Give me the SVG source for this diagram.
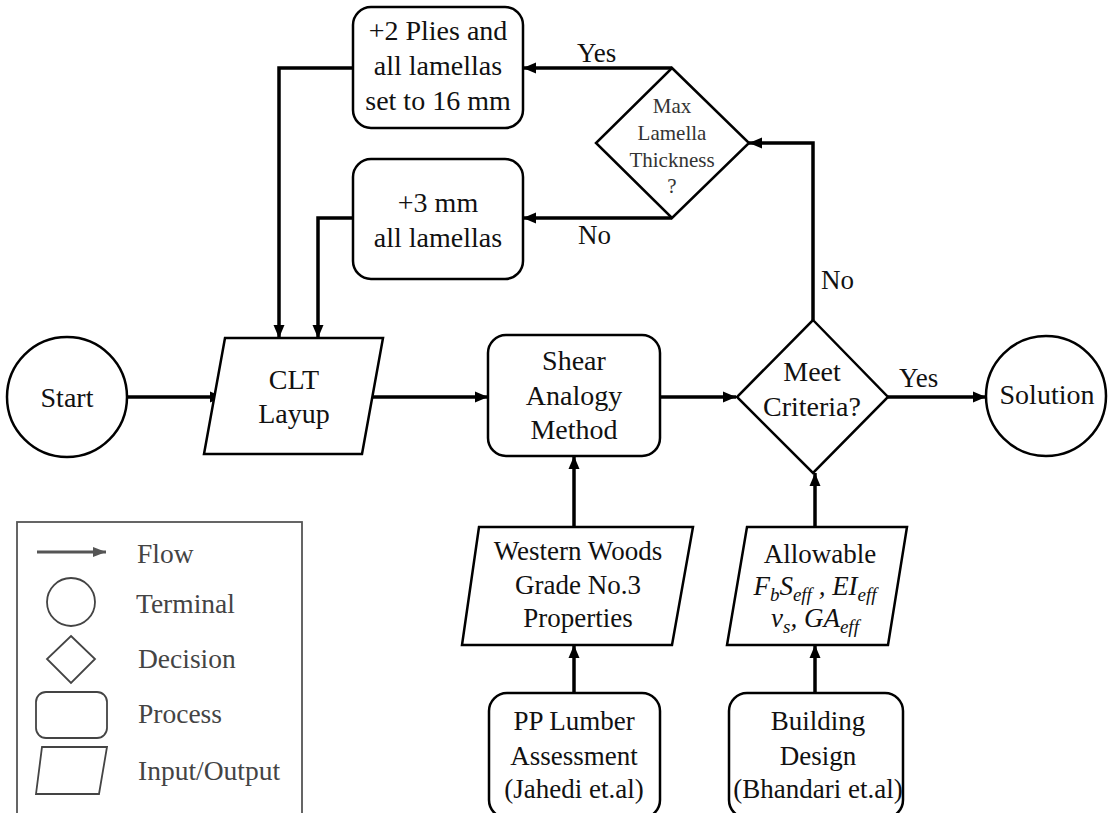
<svg xmlns="http://www.w3.org/2000/svg" width="1113" height="813" viewBox="0 0 1113 813">
<defs>
<marker id="ah" markerUnits="userSpaceOnUse" markerWidth="14" markerHeight="12" refX="13" refY="6" orient="auto">
<path d="M0,0.5 L13,6 L0,11.5 z" fill="#000"/>
</marker>
<marker id="ahg" markerUnits="userSpaceOnUse" markerWidth="14" markerHeight="12" refX="13" refY="6" orient="auto">
<path d="M0,1 L13,6 L0,11 z" fill="#555"/>
</marker>
</defs>
<style>
.sh{fill:#fff;stroke:#000;stroke-width:2.5}
.cn{fill:none;stroke:#000;stroke-width:3.5}
text{font-family:'Liberation Serif','Times New Roman',serif}
.t{font-size:28px;fill:#111;text-anchor:middle}
.ts{font-size:21px;fill:#333;text-anchor:middle}
.tb{font-size:27px;fill:#111;text-anchor:middle}
.lb{font-size:27px;fill:#111}
.m{font-style:italic;font-size:27px;fill:#111;text-anchor:middle}
.lg{fill:#fff;stroke:#444;stroke-width:1.8}
.lt{font-size:27.5px;fill:#444}
</style>
<rect width="1113" height="813" fill="#fff"/>

<g id="connectors">
<path class="cn" d="M128,397 L223,397" marker-end="url(#ah)"/>
<path class="cn" d="M372,397 L488,397" marker-end="url(#ah)"/>
<path class="cn" d="M660,397 L736,397" marker-end="url(#ah)"/>
<path class="cn" d="M888,397 L986,397" marker-end="url(#ah)"/>
<path class="cn" d="M813,320 L813,143 L749,143" marker-end="url(#ah)"/>
<path class="cn" d="M672,68 L523,68" marker-end="url(#ah)"/>
<path class="cn" d="M672,218 L523,218" marker-end="url(#ah)"/>
<path class="cn" d="M353,68 L279,68 L279,338" marker-end="url(#ah)"/>
<path class="cn" d="M353,218 L318,218 L318,338" marker-end="url(#ah)"/>
<path class="cn" d="M574,527 L574,456" marker-end="url(#ah)"/>
<path class="cn" d="M574,693 L574,645" marker-end="url(#ah)"/>
<path class="cn" d="M815,527 L815,473" marker-end="url(#ah)"/>
<path class="cn" d="M815,693 L815,645" marker-end="url(#ah)"/>
<text class="lb" x="577" y="62">Yes</text>
<text class="lb" x="578" y="244">No</text>
<text class="lb" x="821" y="289">No</text>
<text class="lb" x="899" y="387">Yes</text>
</g>

<g id="start">
<circle class="sh" cx="67" cy="397" r="60"/>
<text class="t" x="67" y="407">Start</text>
</g>

<g id="clt-layup">
<polygon class="sh" points="225,338 383,338 362,454 204,454"/>
<text class="t" x="294" y="389">CLT</text>
<text class="t" x="294" y="423">Layup</text>
</g>

<g id="shear-analogy">
<rect class="sh" x="488" y="335" width="172" height="121" rx="18"/>
<text class="t" x="574" y="370">Shear</text>
<text class="t" x="574" y="405">Analogy</text>
<text class="t" x="574" y="439">Method</text>
</g>

<g id="meet-criteria">
<polygon class="sh" points="813,320 888,397 813,473 737,397"/>
<text class="t" x="812" y="381">Meet</text>
<text class="t" x="812" y="416">Criteria?</text>
</g>

<g id="solution">
<circle class="sh" cx="1046" cy="396" r="60"/>
<text class="t" x="1047" y="404">Solution</text>
</g>

<g id="max-lamella">
<polygon class="sh" points="672,68 749,143 672,218 596,143"/>
<text class="ts" x="672" y="113">Max</text>
<text class="ts" x="672" y="140">Lamella</text>
<text class="ts" x="672" y="167">Thickness</text>
<text class="ts" x="672" y="193">?</text>
</g>

<g id="plus2-plies">
<rect class="sh" x="353" y="7" width="170" height="121" rx="18"/>
<text class="t" x="438" y="40">+2 Plies and</text>
<text class="t" x="438" y="75">all lamellas</text>
<text class="t" x="438" y="110">set to 16 mm</text>
</g>

<g id="plus3-mm">
<rect class="sh" x="353" y="159" width="170" height="120" rx="18"/>
<text class="t" x="438" y="212">+3 mm</text>
<text class="t" x="438" y="247">all lamellas</text>
</g>

<g id="western-woods">
<polygon class="sh" points="479,527 693,527 672,645 462,645"/>
<text class="tb" x="578" y="560">Western Woods</text>
<text class="tb" x="578" y="594">Grade No.3</text>
<text class="tb" x="578" y="627">Properties</text>
</g>

<g id="allowable">
<polygon class="sh" points="747,527 907,527 888,645 727,645"/>
<text class="tb" x="820" y="563">Allowable</text>
<text class="m" x="815" y="595">F<tspan dy="6" font-size="19">b</tspan><tspan dy="-6">S</tspan><tspan dy="6" font-size="19">eff</tspan><tspan dy="-6"> , EI</tspan><tspan dy="6" font-size="19">eff</tspan></text>
<text class="m" x="815" y="627">v<tspan dy="6" font-size="19">s</tspan><tspan dy="-6">, GA</tspan><tspan dy="6" font-size="19">eff</tspan></text>
</g>

<g id="pp-lumber">
<rect class="sh" x="489" y="693" width="171" height="125" rx="18"/>
<text class="tb" x="574" y="730">PP Lumber</text>
<text class="tb" x="574" y="765">Assessment</text>
<text class="tb" x="574" y="798">(Jahedi et.al)</text>
</g>

<g id="building-design">
<rect class="sh" x="729" y="693" width="174" height="125" rx="18"/>
<text class="tb" x="818" y="730">Building</text>
<text class="tb" x="818" y="765">Design</text>
<text class="tb" x="818" y="798">(Bhandari et.al)</text>
</g>

<g id="legend">
<rect x="17" y="522" width="285" height="300" fill="#fff" stroke="#555" stroke-width="1.8"/>
<path d="M37,552 L106,552" stroke="#555" stroke-width="3" marker-end="url(#ahg)"/>
<text class="lt" x="137" y="563">Flow</text>
<circle class="lg" cx="71" cy="602" r="24"/>
<text class="lt" x="136" y="613">Terminal</text>
<polygon class="lg" points="71,636 95,659 71,683 47,659"/>
<text class="lt" x="138" y="668">Decision</text>
<rect class="lg" x="36" y="692" width="71" height="46" rx="10"/>
<text class="lt" x="138" y="723">Process</text>
<polygon class="lg" points="42,747 107,747 99,794 36,794"/>
<text class="lt" x="138" y="780">Input/Output</text>
</g>
</svg>
